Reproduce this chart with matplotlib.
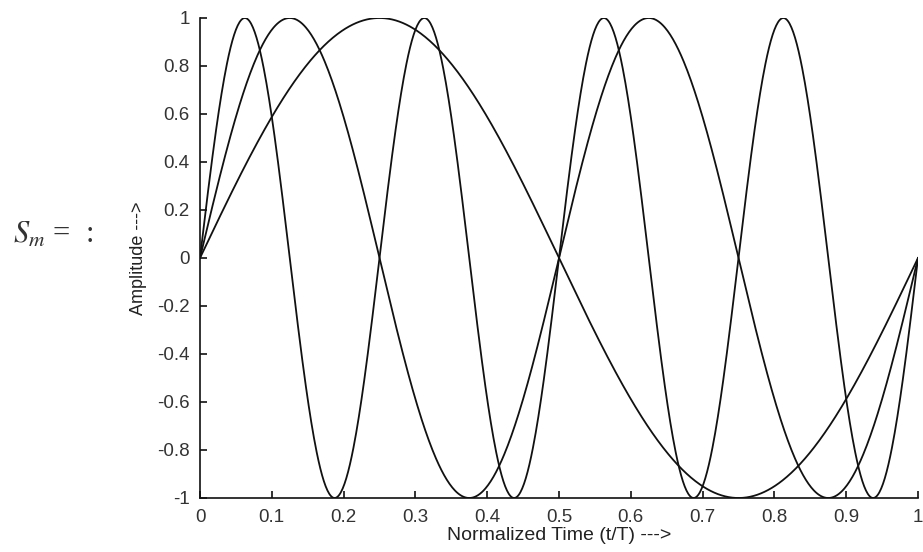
import numpy as np
import matplotlib
matplotlib.use("Agg")
import matplotlib.pyplot as plt

# Data: frequencies (cycles per period T) of the plotted sine curves
frequencies = [1, 2, 4]
t = np.linspace(0, 1, 801)

x_ticks = [0, 0.1, 0.2, 0.3, 0.4, 0.5, 0.6, 0.7, 0.8, 0.9, 1]
x_ticklabels = ["0", "0.1", "0.2", "0.3", "0.4", "0.5", "0.6", "0.7", "0.8", "0.9", "1"]
y_ticks = [-1, -0.8, -0.6, -0.4, -0.2, 0, 0.2, 0.4, 0.6, 0.8, 1]
y_ticklabels = ["-1", "-0.8", "-0.6", "-0.4", "-0.2", "0", "0.2", "0.4", "0.6", "0.8", "1"]

plt.rcParams['font.family'] = ['Liberation Sans', 'DejaVu Sans']

fig = plt.figure(figsize=(9.23, 5.52), dpi=100)
ax = fig.add_axes([200/923, 54/552, 718/923, 480/552])

for f in frequencies:
    ax.plot(t, np.sin(2 * np.pi * f * t), color='#111111', linewidth=1.3)

ax.set_xlim(0, 1)
ax.set_ylim(-1, 1)
ax.set_xticks(x_ticks)
ax.set_xticklabels(x_ticklabels)
ax.set_yticks(y_ticks)
ax.set_yticklabels(y_ticklabels)
ax.tick_params(direction='in', length=5, width=1.2, labelsize=13.5,
               colors='#111111', labelcolor='#333333')
ax.tick_params(axis='x', pad=8)
ax.tick_params(axis='y', pad=7.5)
for s in ['top', 'right']:
    ax.spines[s].set_visible(False)
for s in ['left', 'bottom']:
    ax.spines[s].set_linewidth(1.2)
    ax.spines[s].set_color('#111111')

ax.set_xlabel("Normalized Time (t/T) --->", fontsize=14, labelpad=1, color='#222222')
ax.set_ylabel("Amplitude --->", fontsize=13, labelpad=7, color='#222222')

fig.text(13/923, 1 - 243/552, "$S_m$ =  :", fontsize=22, family='Liberation Serif',
         va='baseline', ha='left', color='#333333',
         math_fontfamily='stix')

fig.savefig("out.png", dpi=100)
